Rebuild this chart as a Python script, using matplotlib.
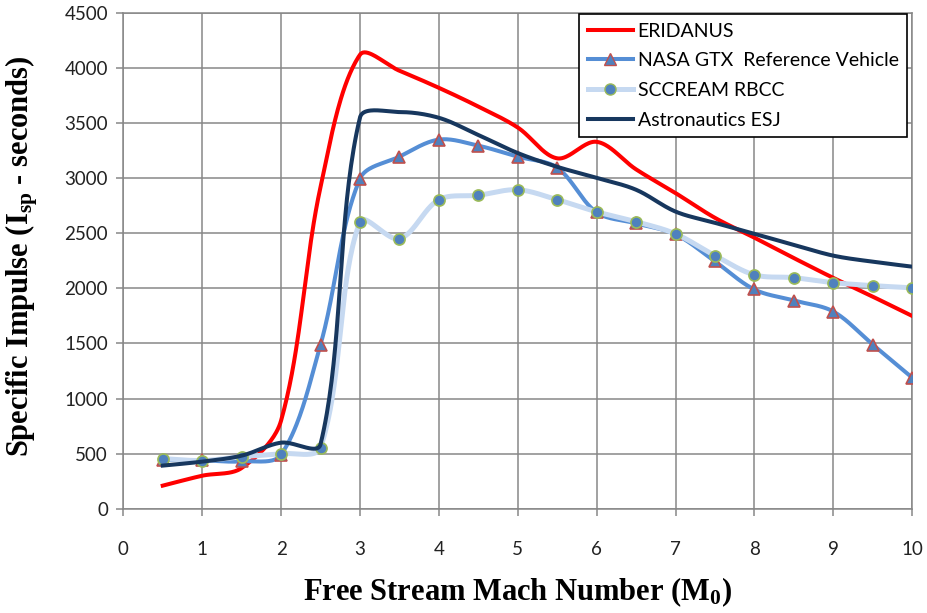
import numpy as np
import matplotlib
matplotlib.use("Agg")
import matplotlib.pyplot as plt
from matplotlib.lines import Line2D

plt.rcParams['mathtext.fontset'] = 'custom'
plt.rcParams['mathtext.rm'] = 'Liberation Serif:bold'
plt.rcParams['mathtext.it'] = 'Liberation Serif:bold'
plt.rcParams['mathtext.bf'] = 'Liberation Serif:bold'

# Mach numbers
mach = [0.5, 1, 1.5, 2, 2.5, 3, 3.5, 4, 4.5, 5, 5.5, 6, 6.5, 7, 7.5, 8, 8.5, 9, 9.5, 10]

# Specific impulse (s) per vehicle
eridanus = [210, 300, 370, 800, 2920, 4120, 3975, 3820, 3650, 3460, 3180, 3330,
            3080, 2865, 2640, 2460, 2275, 2095, 1925, 1750]
nasa_gtx = [445, 440, 430, 490, 1490, 2995, 3195, 3350, 3295, 3195, 3095, 2690,
            2590, 2490, 2245, 1990, 1890, 1790, 1490, 1190]
sccream = [455, 438, 472, 500, 555, 2605, 2450, 2805, 2845, 2895, 2805, 2695,
           2605, 2495, 2298, 2123, 2097, 2052, 2025, 2005]
esj = [392, 428, 482, 600, 585, 3550, 3600, 3548, 3392, 3228, 3103, 3003,
       2895, 2697, 2595, 2495, 2395, 2297, 2242, 2197]

names = ['ERIDANUS', 'NASA GTX  Reference Vehicle', 'SCCREAM RBCC', 'Astronautics ESJ']

# rough screen scale (px per data unit) used for the smoothing
XS, YS = 789 / 10, 496 / 4500


def smooth(x, y, n=40):
    # Excel-like smoothed line: Bezier segments, tangents weighted by chord length
    p = np.column_stack([np.asarray(x) * XS, np.asarray(y) * YS]).astype(float)
    m = len(p)
    ext = np.vstack([p[0], p, p[-1]])
    cout, cin = [], []
    for i in range(m):
        prev, cur, nxt = ext[i], ext[i + 1], ext[i + 2]
        d = nxt - prev
        la = np.hypot(*(cur - prev))
        lb = np.hypot(*(nxt - cur))
        tot = la + lb if la + lb > 0 else 1
        cout.append(cur + d * lb / tot / 3)
        cin.append(cur - d * la / tot / 3)
    t = np.linspace(0, 1, n)[:, None]
    out = []
    for i in range(m - 1):
        p0, p1, p2, p3 = p[i], cout[i], cin[i + 1], p[i + 1]
        seg = ((1 - t) ** 3) * p0 + 3 * ((1 - t) ** 2) * t * p1 + 3 * (1 - t) * t ** 2 * p2 + t ** 3 * p3
        out.append(seg)
    s = np.vstack(out)
    return s[:, 0] / XS, s[:, 1] / YS


fig = plt.figure(figsize=(9.27, 6.13), dpi=100)
ax = fig.add_axes([0.133, 0.170, 0.851, 0.809])

grey = '#878787'
red = '#FF0000'
blue = '#558ED5'
light = '#C6D9F1'
navy = '#17375E'

sx, sy = smooth(mach, eridanus)
ax.plot(sx, sy, color=red, lw=2.9, zorder=3)

sx, sy = smooth(mach, nasa_gtx)
ax.plot(sx, sy, color=blue, lw=2.9, zorder=4)
ax.plot(mach, nasa_gtx, ls='none', marker='^', ms=8, mfc='#4F81BD', mec='#C0504D', mew=1.2, zorder=4)

sx, sy = smooth(mach, sccream)
ax.plot(sx, sy, color=light, lw=3.6, zorder=5)
ax.plot(mach, sccream, ls='none', marker='o', ms=8, mfc='#4F81BD', mec='#9BBB59', mew=1.2, zorder=5)

sx, sy = smooth(mach, esj)
ax.plot(sx, sy, color=navy, lw=2.9, zorder=6)

ax.set_xlim(0, 10)
ax.set_ylim(0, 4500)
ax.set_xticks(range(0, 11))
ax.set_yticks(range(0, 4501, 500))
ax.grid(True, color=grey, lw=1.1)
ax.set_axisbelow(True)
for s in ax.spines.values():
    s.set_color(grey)
    s.set_linewidth(1.1)
ax.tick_params(direction='out', length=5, color=grey, width=1.1, labelsize=13.5,
               labelcolor='#222222')
ax.tick_params(axis='x', pad=18)
ax.tick_params(axis='y', pad=6)
for lab in ax.get_xticklabels() + ax.get_yticklabels():
    lab.set_fontfamily('Lato')

ax.set_xlabel(r'Free Stream Mach Number (M$_0$)', fontfamily='Liberation Serif',
              fontweight='bold', fontsize=22)
ax.set_ylabel(r'Specific Impulse (I$_{\mathrm{sp}}$ - seconds)', fontfamily='Liberation Serif',
              fontweight='bold', fontsize=22)
ax.xaxis.set_label_coords(0.5, -0.135)
ax.yaxis.set_label_coords(-0.105, 0.51)

handles = [
    Line2D([], [], color=red, lw=2.9),
    Line2D([], [], color=blue, lw=2.9, marker='^', ms=8, mfc='#4F81BD', mec='#C0504D'),
    Line2D([], [], color=light, lw=3.6, marker='o', ms=8, mfc='#4F81BD', mec='#9BBB59'),
    Line2D([], [], color=navy, lw=2.9),
]
leg = ax.legend(handles, names, loc='upper right', bbox_to_anchor=(0.995, 1.0),
                prop={'family': 'Lato', 'size': 14}, fancybox=False, framealpha=1,
                edgecolor='black', handlelength=2.3, handletextpad=0.25,
                borderpad=0.45, labelspacing=0.65, borderaxespad=0.05)
leg.get_frame().set_linewidth(1.2)
leg.set_zorder(10)

fig.savefig('out.png', dpi=100)
